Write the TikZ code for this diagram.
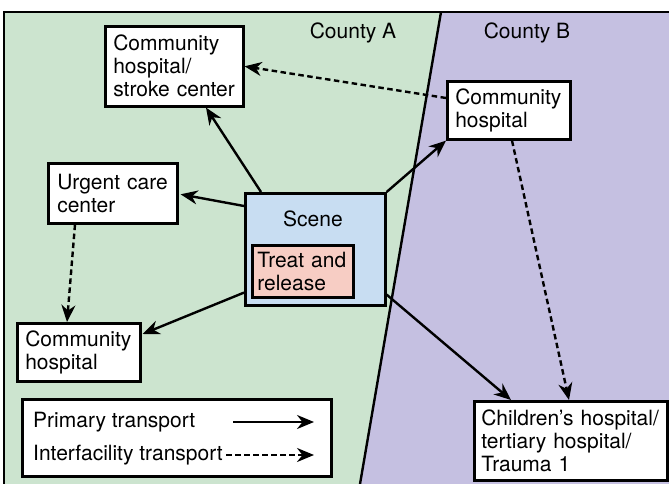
\documentclass[tikz,border=0pt]{standalone}
\usepackage{fontspec}
\setmainfont{TeX Gyre Heros}
\usetikzlibrary{arrows.meta,calc}
\definecolor{cgreen}{RGB}{204,228,207}
\definecolor{cpurple}{RGB}{197,192,225}
\definecolor{cblue}{RGB}{200,221,242}
\definecolor{cpink}{RGB}{247,205,196}
\tikzset{
  box/.style={draw, line width=2.6pt, fill=white, anchor=north west, align=left, inner xsep=8pt, inner ysep=0pt, font=\fontsize{21}{23}\selectfont},
  prim/.style={line width=2.4pt, -{Stealth[length=17pt,width=14pt,inset=5.5pt]}},
  inter/.style={prim, dash pattern=on 5.5pt off 3.5pt},
  lbl/.style={font=\fontsize{21}{23}\selectfont, inner sep=0pt}
}
\begin{document}
\begin{tikzpicture}[x=1pt,y=-1pt]
\useasboundingbox (0,0) rectangle (669,484);
% regions
\fill[cgreen] (4,12) -- (441,12) -- (360,484) -- (4,484) -- cycle;
\fill[cpurple] (441,12) -- (669,12) -- (669,484) -- (360,484) -- cycle;
\draw[line width=2.4pt] (4,484) -- (4,12) -- (669,12);
\draw[line width=2.4pt] (441,12) -- (360,484);
\node[lbl] (ca) at (353,33) {County A};
\node[lbl] (cb) at (527,33) {County B};
% nodes
\node[box, minimum width=138pt, minimum height=80pt, text width=122pt] (stroke) at (104,25) {Community\\hospital/\\stroke center};
\node[box, minimum width=123pt, minimum height=58pt, text width=107pt] (commB) at (446,80) {Community\\hospital};
\node[box, minimum width=129pt, minimum height=60pt, text width=111pt, inner xsep=9pt] (urgent) at (47,162) {Urgent care\\center};
\node[box, minimum width=123pt, minimum height=58pt, text width=107pt] (commL) at (16,322) {Community\\hospital};
\node[box, minimum width=193pt, minimum height=79pt, text width=179pt, inner xsep=7pt] (child) at (473,400) {Children’s hospital/\\tertiary hospital/\\Trauma 1};
\node[box, fill=cblue, minimum width=140pt, minimum height=112pt] (scene) at (244,192) {};
\node[lbl] (scenet) at (313,219) {Scene};
\node[box, fill=cpink, minimum width=101pt, minimum height=52pt, text width=91pt, inner xsep=5pt] (treat) at (251,244) {Treat and\\release};
% legend
\node[box, minimum width=309pt, minimum height=77pt] (legend) at (21,398) {};
\node[lbl, anchor=west] (lp) at (33,422) {Primary transport};
\node[lbl, anchor=west] (li) at (33,455) {Interfacility transport};
\coordinate (lpa) at (233,422);
\coordinate (lpb) at (314,422);
\coordinate (lia) at (226,455);
\coordinate (lib) at (314,455);
\draw[prim] (lpa) -- (lpb);
\draw[inter] (lia) -- (lib);
% connectors
\draw[prim] ($(scene.north west)+(17,0)$) -- ($(stroke.south west)+(102,0)$);
\draw[prim] ($(scene.north west)+(0,14)$) -- ($(urgent.east)+(2,1)$);
\draw[prim] ($(scene.south west)+(0,-14)$) -- ($(commL.north east)+(1,12)$);
\draw[prim] (scene.north east) -- (commB.south west);
\draw[prim] ($(scene.south east)+(0,-12)$) -- ($(child.north west)+(38,0)$);
\draw[inter] ($(commB.south west)+(66,0)$) -- ($(child.north west)+(96,0)$);
\draw[inter] ($(commB.north west)+(0,18)$) -- (stroke.east);
\draw[inter] ($(urgent.south west)+(28,0)$) -- ($(commL.north west)+(51,0)$);
\end{tikzpicture}
\end{document}
